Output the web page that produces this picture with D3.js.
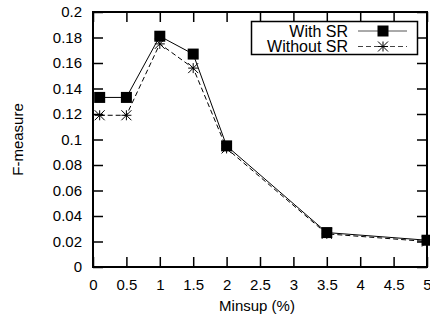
<!DOCTYPE html>
<html>
<head>
<meta charset="utf-8">
<script src="https://cdn.jsdelivr.net/npm/d3@7"></script>
<style>
  body { margin: 0; background: #fff; }
  text { font-family: "Liberation Sans", Arial, sans-serif; font-size: 15px; fill: #000; }
</style>
</head>
<body>
<div id="chart"></div>
<script>
// data
let minsup = [0.1, 0.5, 1, 1.5, 2, 3.5, 5];
let withSR = [0.133, 0.133, 0.181, 0.167, 0.095, 0.027, 0.021];
let withoutSR = [0.119, 0.119, 0.175, 0.156, 0.093, 0.026, 0.020];
let xTicks = [0, 0.5, 1, 1.5, 2, 2.5, 3, 3.5, 4, 4.5, 5];
let yTicks = [0, 0.02, 0.04, 0.06, 0.08, 0.1, 0.12, 0.14, 0.16, 0.18, 0.2];
let seriesNames = ['With SR', 'Without SR'];

let width = 430;
let height = 320;

let svg = d3.select('#chart')
    .append('svg')
    .attr('width', width)
    .attr('height', height);

let plotMargins = { top: 12, bottom: 53, left: 93, right: 3 };
let plotWidth = width - plotMargins.left - plotMargins.right;
let plotHeight = height - plotMargins.top - plotMargins.bottom;

let plotGroup = svg.append('g')
    .attr('transform', `translate(${plotMargins.left},${plotMargins.top})`);

let xScale = d3.scaleLinear().domain([0, 5]).range([0, plotWidth]);
let yScale = d3.scaleLinear().domain([0, 0.2]).range([plotHeight, 0]);

let fmt = d => String(+d.toFixed(2));

// inward ticks on all four sides, gnuplot style
let xAxis = d3.axisBottom(xScale).tickValues(xTicks).tickFormat(fmt).tickSizeInner(-10).tickSizeOuter(0).tickPadding(12);
let yAxis = d3.axisLeft(yScale).tickValues(yTicks).tickFormat(fmt).tickSizeInner(-10).tickSizeOuter(0).tickPadding(11);
let xTop = d3.axisTop(xScale).tickValues(xTicks).tickFormat('').tickSizeInner(-10).tickSizeOuter(0);
let yRight = d3.axisRight(yScale).tickValues(yTicks).tickFormat('').tickSizeInner(-10).tickSizeOuter(0);

let axes = [
    plotGroup.append('g').attr('transform', `translate(0,${plotHeight})`).call(xAxis),
    plotGroup.append('g').call(yAxis),
    plotGroup.append('g').call(xTop),
    plotGroup.append('g').attr('transform', `translate(${plotWidth},0)`).call(yRight)
];
axes.forEach(a => {
    a.select('.domain').remove();
    a.selectAll('.tick line').attr('stroke', '#000').attr('stroke-width', 1.5);
    a.selectAll('.tick text').attr('font-size', 15).attr('font-family', 'Liberation Sans, Arial, sans-serif').attr('fill', '#000');
});

plotGroup.append('rect')
    .attr('width', plotWidth)
    .attr('height', plotHeight)
    .attr('fill', 'none')
    .attr('stroke', '#000')
    .attr('stroke-width', 2);

// axis titles
svg.append('text')
    .attr('x', plotMargins.left + plotWidth / 2 - 3)
    .attr('y', 311)
    .attr('text-anchor', 'middle')
    .text('Minsup (%)');
svg.append('text')
    .attr('transform', `translate(23,${plotMargins.top + plotHeight / 2}) rotate(-90)`)
    .attr('text-anchor', 'middle')
    .text('F-measure');

let line = d3.line()
    .x((d, i) => xScale(minsup[i]))
    .y(d => yScale(d));

let starPath = s => {
    let r = s / 2;
    return `M${-r},0L${r},0M0,${-r}L0,${r}M${-r},${-r}L${r},${r}M${-r},${r}L${r},${-r}`;
};

// Without SR (dashed, star points)
plotGroup.append('path')
    .attr('d', line(withoutSR))
    .attr('fill', 'none')
    .attr('stroke', '#000')
    .attr('stroke-width', 1)
    .attr('stroke-dasharray', '5,3');
plotGroup.selectAll('.star')
    .data(withoutSR)
    .enter()
    .append('path')
    .attr('class', 'star')
    .attr('transform', (d, i) => `translate(${xScale(minsup[i])},${yScale(d)})`)
    .attr('d', starPath(10))
    .attr('stroke', '#000')
    .attr('stroke-width', 1);

// With SR (solid, square points)
plotGroup.append('path')
    .attr('d', line(withSR))
    .attr('fill', 'none')
    .attr('stroke', '#000')
    .attr('stroke-width', 1);
plotGroup.selectAll('.sq')
    .data(withSR)
    .enter()
    .append('rect')
    .attr('class', 'sq')
    .attr('x', (d, i) => xScale(minsup[i]) - 5.5)
    .attr('y', d => yScale(d) - 5.5)
    .attr('width', 11)
    .attr('height', 11)
    .attr('fill', '#000');

// legend
let legend = svg.append('g');
legend.append('rect')
    .attr('x', 251.5)
    .attr('y', 21.5)
    .attr('width', 166)
    .attr('height', 33)
    .attr('fill', '#fff')
    .attr('stroke', '#000')
    .attr('stroke-width', 1.5);
seriesNames.forEach((name, i) => {
    let cy = 31 + i * 15.5;
    legend.append('text')
        .attr('x', 348)
        .attr('y', cy + 5.5)
        .attr('text-anchor', 'end')
        .style('font-size', '16px')
        .text(name);
    legend.append('line')
        .attr('x1', 358).attr('x2', 407)
        .attr('y1', cy).attr('y2', cy)
        .attr('stroke', i === 0 ? '#555' : '#444')
        .attr('stroke-width', 1)
        .attr('stroke-dasharray', i === 0 ? null : '5,3');
    if (i === 0) {
        legend.append('rect')
            .attr('x', 383 - 5.5).attr('y', cy - 5.5)
            .attr('width', 11).attr('height', 11)
            .attr('fill', '#000');
    } else {
        legend.append('path')
            .attr('transform', `translate(383,${cy})`)
            .attr('d', starPath(10))
            .attr('stroke', '#000')
            .attr('stroke-width', 1);
    }
});
</script>
</body>
</html>
